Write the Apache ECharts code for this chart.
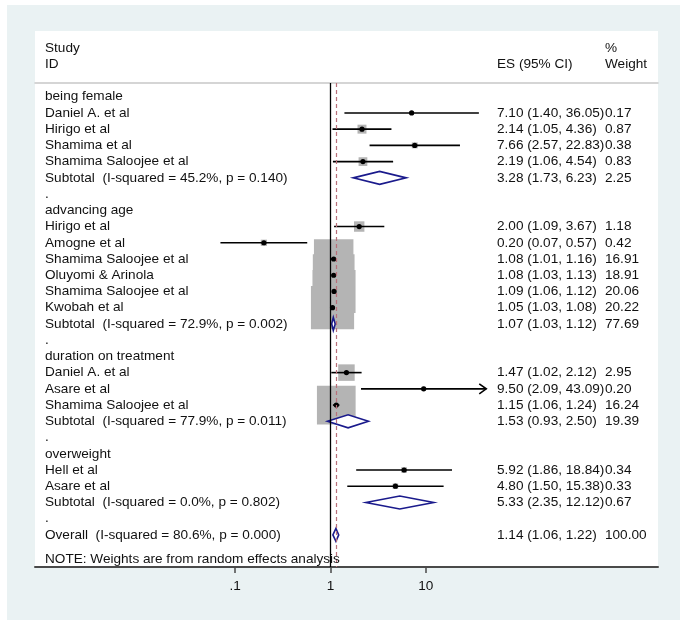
<!DOCTYPE html>
<html>
<head>
<meta charset="utf-8">
<title>Forest plot</title>
<script src="https://cdn.jsdelivr.net/npm/echarts@6/dist/echarts.min.js"></script>
<style>
  html, body { margin: 0; padding: 0; background: #fff; }
  #main { width: 685px; height: 632px; }
</style>
</head>
<body>
<div id="main"></div>
<script type="text/javascript">
// rows of the forest plot, top to bottom
var labels = [
    'being female', 'Daniel A. et al', 'Hirigo et al', 'Shamima et al', 'Shamima Saloojee et al',
    'Subtotal  (I-squared = 45.2%, p = 0.140)', '.',
    'advancing age', 'Hirigo et al', 'Amogne et al', 'Shamima Saloojee et al', 'Oluyomi & Arinola',
    'Shamima Saloojee et al', 'Kwobah et al', 'Subtotal  (I-squared = 72.9%, p = 0.002)', '.',
    'duration on treatment', 'Daniel A. et al', 'Asare et al', 'Shamima Saloojee et al',
    'Subtotal  (I-squared = 77.9%, p = 0.011)', '.',
    'overweight', 'Hell et al', 'Asare et al', 'Subtotal  (I-squared = 0.0%, p = 0.802)', '.',
    'Overall  (I-squared = 80.6%, p = 0.000)'
];
var rowKind = [
    'group', 'study', 'study', 'study', 'study', 'sub', 'gap',
    'group', 'study', 'study', 'study', 'study', 'study', 'study', 'sub', 'gap',
    'group', 'study', 'study', 'study', 'sub', 'gap',
    'group', 'study', 'study', 'sub', 'gap',
    'overall'
];
var es = [null, 7.10, 2.14, 7.66, 2.19, 3.28, null,
    null, 2.00, 0.20, 1.08, 1.08, 1.09, 1.05, 1.07, null,
    null, 1.47, 9.50, 1.15, 1.53, null,
    null, 5.92, 4.80, 5.33, null,
    1.14];
var lo = [null, 1.40, 1.05, 2.57, 1.06, 1.73, null,
    null, 1.09, 0.07, 1.01, 1.03, 1.06, 1.03, 1.03, null,
    null, 1.02, 2.09, 1.06, 0.93, null,
    null, 1.86, 1.50, 2.35, null,
    1.06];
var hi = [null, 36.05, 4.36, 22.83, 4.54, 6.23, null,
    null, 3.67, 0.57, 1.16, 1.13, 1.12, 1.08, 1.12, null,
    null, 2.12, 43.09, 1.24, 2.50, null,
    null, 18.84, 15.38, 12.12, null,
    1.22];
var weight = [null, 0.17, 0.87, 0.38, 0.83, 2.25, null,
    null, 1.18, 0.42, 16.91, 18.91, 20.06, 20.22, 77.69, null,
    null, 2.95, 0.20, 16.24, 19.39, null,
    null, 0.34, 0.33, 0.67, null,
    100.00];
var tickValues = [0.1, 1, 10];
var tickLabels = ['.1', '1', '10'];
var noteText = 'NOTE: Weights are from random effects analysis';

var chart = echarts.init(document.getElementById('main'));

var FAMILY = '"Liberation Sans", Arial, sans-serif';
var FONT = '13.6px ' + FAMILY;
var TEXT = '#111';
var NAVY = '#1a1a8c';
var arrowAbove = 40;   // CI drawn with an arrow past this value
var overallRow = rowKind.indexOf('overall');

function fmt(v) { return v.toFixed(2); }

var rows = labels.map(function (l, i) {
    return [es[i] == null ? 0 : Math.log10(es[i]), i];
});

function txt(s, x, y) {
    return {
        type: 'text', z2: 10,
        style: { text: s, x: x, y: y, font: FONT, fill: TEXT, textAlign: 'left', textVerticalAlign: 'middle' }
    };
}

function renderRow(params, api) {
    var i = params.dataIndex;
    var cs = params.coordSys;
    var y = api.coord([0, i])[1];
    var kids = [txt(labels[i], cs.x + 10, y)];
    if (es[i] == null) return { type: 'group', children: kids };

    var pe = api.coord([Math.log10(es[i]), i]);
    var pl = api.coord([Math.log10(lo[i]), i]);
    var ph = api.coord([Math.log10(hi[i]), i]);
    kids.push(txt(fmt(es[i]) + ' (' + fmt(lo[i]) + ', ' + fmt(hi[i]) + ')', cs.x + 462, y));
    kids.push(txt(fmt(weight[i]), cs.x + 570, y));

    if (rowKind[i] === 'study') {
        var s = 9.6 * Math.sqrt(weight[i]);
        kids.push({
            type: 'rect', z2: 1,
            shape: { x: pe[0] - s / 2, y: y - s / 2, width: s, height: s },
            style: { fill: '#b4b4b4' }
        });
        kids.push({
            type: 'line', z2: 2,
            shape: { x1: pl[0], y1: y, x2: ph[0], y2: y },
            style: { stroke: '#000', lineWidth: 1.6 }
        });
        if (hi[i] > arrowAbove) {
            kids.push({
                type: 'polyline', z2: 2,
                shape: { points: [[ph[0] - 7, y - 5], [ph[0], y], [ph[0] - 7, y + 5]] },
                style: { stroke: '#000', lineWidth: 1.6, fill: null }
            });
        }
        kids.push({
            type: 'circle', z2: 3,
            shape: { cx: pe[0], cy: y, r: 2.6 },
            style: { fill: '#000' }
        });
    } else {
        var h = 6.5;
        kids.push({
            type: 'polygon', z2: 4,
            shape: { points: [[pl[0], y], [pe[0], y - h], [ph[0], y], [pe[0], y + h]] },
            style: { fill: '#fff', stroke: NAVY, lineWidth: 1.6 }
        });
    }
    return { type: 'group', children: kids };
}

var option = {
    animation: false,
    grid: { left: 35, right: 27, top: 83, bottom: 65 },
    xAxis: [{
        type: 'value', position: 'bottom',
        min: -3.1007, max: 3.4365,
        splitLine: { show: false },
        axisLine: { onZero: false, lineStyle: { color: '#4a4a4a', width: 2 } },
        axisTick: {
            customValues: tickValues.map(Math.log10),
            length: 6, lineStyle: { color: '#4a4a4a', width: 1.5 }
        },
        axisLabel: {
            customValues: tickValues.map(Math.log10),
            margin: 12, color: TEXT, fontSize: 13.6, fontFamily: FAMILY,
            formatter: function (v) {
                var k = tickValues.map(Math.log10).findIndex(function (t) { return Math.abs(t - v) < 1e-6; });
                return k < 0 ? '' : tickLabels[k];
            }
        }
    }, {
        type: 'value', position: 'top',
        min: -3.1007, max: 3.4365,
        splitLine: { show: false },
        axisLine: { onZero: false, lineStyle: { color: '#c8c8c8', width: 1.5 } },
        axisTick: { show: false },
        axisLabel: { show: false }
    }],
    yAxis: {
        type: 'value', inverse: true, show: false,
        min: -0.844, max: 28.977,
        splitLine: { show: false }
    },
    graphic: [
        { type: 'rect', z: -10, shape: { x: 7, y: 5, width: 673, height: 615 }, style: { fill: '#eaf2f3' } },
        { type: 'rect', z: -9, shape: { x: 35, y: 31, width: 623, height: 536 }, style: { fill: '#fff' } },
        { type: 'text', x: 45, y: 48, style: { text: 'Study', font: FONT, fill: TEXT, textVerticalAlign: 'middle' } },
        { type: 'text', x: 45, y: 64, style: { text: 'ID', font: FONT, fill: TEXT, textVerticalAlign: 'middle' } },
        { type: 'text', x: 497, y: 64, style: { text: 'ES (95% CI)', font: FONT, fill: TEXT, textVerticalAlign: 'middle' } },
        { type: 'text', x: 605, y: 48, style: { text: '%', font: FONT, fill: TEXT, textVerticalAlign: 'middle' } },
        { type: 'text', x: 605, y: 64, style: { text: 'Weight', font: FONT, fill: TEXT, textVerticalAlign: 'middle' } },
        { type: 'text', x: 45, y: 559, z: 10, style: { text: noteText, font: FONT, fill: TEXT, textVerticalAlign: 'middle' } }
    ],
    series: [{
        // null line and overall effect line
        type: 'line', data: [], z: 1,
        markLine: {
            silent: true, symbol: ['none', 'none'], label: { show: false },
            data: [
                { xAxis: 0, lineStyle: { color: '#000', width: 1.3, type: 'solid' } },
                { xAxis: Math.log10(es[overallRow]), lineStyle: { color: '#b8707a', width: 1.2, type: [4, 3] } }
            ]
        }
    }, {
        type: 'custom', z: 2,
        encode: { x: 0, y: 1 },
        data: rows,
        renderItem: renderRow
    }]
};

chart.setOption(option);
</script>
</body>
</html>
